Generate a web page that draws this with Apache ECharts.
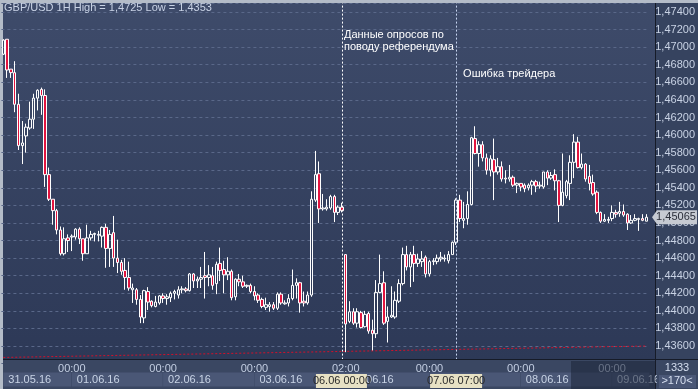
<!DOCTYPE html>
<html><head><meta charset="utf-8">
<script src="https://cdn.jsdelivr.net/npm/echarts@6/dist/echarts.min.js"></script>
<style>html,body{margin:0;padding:0;background:#b4bcc8;overflow:hidden}#c{width:698px;height:389px}</style>
</head><body><div id="c"></div><script>
// ---- data (GBP/USD 1H candles) ----
const opens = [1.4692,1.4709,1.4675,1.4671,1.4635,1.4588,1.4599,1.4608,1.4618,1.4642,1.4652,1.4645,1.4555,1.4527,1.4514,1.4492,1.4465,1.4483,1.4484,1.4484,1.4493,1.4482,1.4465,1.4483,1.4487,1.4486,1.4485,1.4495,1.4471,1.4489,1.4460,1.4455,1.4446,1.4438,1.4424,1.4424,1.4413,1.4392,1.4422,1.4411,1.4405,1.4409,1.4417,1.4414,1.4415,1.4420,1.4418,1.4424,1.4425,1.4423,1.4442,1.4434,1.4436,1.4440,1.4438,1.4440,1.4431,1.4454,1.4447,1.4441,1.4445,1.4416,1.4436,1.4433,1.4428,1.4429,1.4422,1.4418,1.4413,1.4404,1.4405,1.4407,1.4403,1.4419,1.4408,1.4409,1.4414,1.4429,1.4432,1.4411,1.4409,1.4418,1.4526,1.4556,1.4516,1.4516,1.4517,1.4530,1.4512,1.4518,1.4464,1.4388,1.4399,1.4386,1.4398,1.4382,1.4397,1.4378,1.4374,1.4421,1.4432,1.4388,1.4393,1.4393,1.4411,1.4431,1.4464,1.4450,1.4464,1.4454,1.4456,1.4461,1.4442,1.4456,1.4456,1.4459,1.4459,1.4457,1.4464,1.4478,1.4526,1.4503,1.4505,1.4521,1.4596,1.4579,1.4589,1.4574,1.4560,1.4572,1.4558,1.4564,1.4550,1.4550,1.4552,1.4543,1.4545,1.4543,1.4540,1.4543,1.4547,1.4542,1.4541,1.4558,1.4551,1.4555,1.4548,1.4520,1.4531,1.4545,1.4569,1.4592,1.4563,1.4567,1.4553,1.4546,1.4535,1.4512,1.4502,1.4503,1.4505,1.4512,1.4511,1.4513,1.4510,1.4500,1.4503,1.4504,1.4505,1.4502];
const closes = [1.4708,1.4674,1.4671,1.4635,1.4588,1.4591,1.4609,1.4618,1.4642,1.4651,1.4645,1.4555,1.4527,1.4514,1.4492,1.4465,1.4482,1.4480,1.4485,1.4493,1.4482,1.4465,1.4483,1.4487,1.4488,1.4487,1.4495,1.4471,1.4487,1.4460,1.4455,1.4445,1.4438,1.4426,1.4426,1.4413,1.4393,1.4423,1.4410,1.4406,1.4410,1.4417,1.4414,1.4416,1.4420,1.4422,1.4424,1.4425,1.4423,1.4442,1.4434,1.4436,1.4438,1.4438,1.4441,1.4429,1.4453,1.4446,1.4441,1.4445,1.4415,1.4436,1.4433,1.4428,1.4429,1.4422,1.4417,1.4412,1.4405,1.4407,1.4407,1.4403,1.4419,1.4409,1.4409,1.4414,1.4429,1.4432,1.4409,1.4409,1.4418,1.4527,1.4555,1.4516,1.4517,1.4518,1.4530,1.4512,1.4518,1.4514,1.4385,1.4399,1.4386,1.4399,1.4381,1.4396,1.4377,1.4374,1.4421,1.4431,1.4386,1.4393,1.4395,1.4412,1.4431,1.4464,1.4450,1.4464,1.4454,1.4459,1.4459,1.4442,1.4456,1.4457,1.4460,1.4461,1.4460,1.4464,1.4478,1.4526,1.4505,1.4505,1.4521,1.4597,1.4579,1.4589,1.4574,1.4560,1.4573,1.4558,1.4564,1.4550,1.4551,1.4552,1.4543,1.4545,1.4541,1.4539,1.4543,1.4547,1.4542,1.4543,1.4558,1.4551,1.4554,1.4548,1.4520,1.4535,1.4547,1.4569,1.4592,1.4563,1.4567,1.4550,1.4545,1.4533,1.4512,1.4502,1.4504,1.4504,1.4512,1.4510,1.4513,1.4509,1.4500,1.4503,1.4505,1.4505,1.4503,1.45065];
const lows = [1.4691,1.4665,1.4665,1.4626,1.4583,1.4567,1.4580,1.4606,1.4607,1.4628,1.4623,1.4541,1.4525,1.4498,1.4487,1.4463,1.4463,1.4467,1.4468,1.4481,1.4476,1.4457,1.4465,1.4480,1.4479,1.4479,1.4472,1.4449,1.4450,1.4450,1.4443,1.4441,1.4424,1.4423,1.4409,1.4407,1.4386,1.4386,1.4401,1.4404,1.4404,1.4407,1.4409,1.4407,1.4410,1.4413,1.4414,1.4420,1.4421,1.4422,1.4426,1.4426,1.4426,1.4414,1.4428,1.4424,1.4419,1.4434,1.4420,1.4435,1.4412,1.4412,1.4428,1.4426,1.4426,1.4420,1.4412,1.4409,1.4403,1.4401,1.4399,1.4401,1.4401,1.4407,1.4407,1.4405,1.4412,1.4414,1.4398,1.4405,1.4407,1.4416,1.4524,1.4500,1.4514,1.4514,1.4515,1.4501,1.4509,1.4512,1.4353,1.4386,1.4384,1.4381,1.4380,1.4381,1.4374,1.4355,1.4369,1.4420,1.4384,1.4364,1.4392,1.4391,1.4409,1.4429,1.4446,1.4427,1.4433,1.4450,1.4450,1.4438,1.4439,1.4452,1.4453,1.4456,1.4456,1.4454,1.4464,1.4475,1.4501,1.4494,1.4498,1.4520,1.4578,1.4564,1.4570,1.4555,1.4553,1.4526,1.4555,1.4547,1.4545,1.4547,1.4541,1.4534,1.4536,1.4535,1.4537,1.4532,1.4535,1.4539,1.4539,1.4543,1.4549,1.4537,1.4501,1.4519,1.4528,1.4526,1.4551,1.4562,1.4561,1.4547,1.4537,1.4531,1.4510,1.4500,1.4501,1.4500,1.4502,1.4506,1.4507,1.4507,1.4492,1.4499,1.4502,1.4491,1.4502,1.4502];
const highs = [1.4709,1.4709,1.4675,1.4684,1.4647,1.4616,1.4613,1.4638,1.4647,1.4652,1.4654,1.4652,1.4563,1.4527,1.4516,1.4496,1.4495,1.4487,1.4487,1.4494,1.4495,1.4482,1.4498,1.4491,1.4489,1.4491,1.4496,1.4499,1.4492,1.4508,1.4481,1.4458,1.4460,1.4456,1.4431,1.4426,1.4418,1.4424,1.4427,1.4412,1.4417,1.4418,1.4420,1.4419,1.4422,1.4424,1.4428,1.4428,1.4427,1.4443,1.4443,1.4439,1.4450,1.4467,1.4452,1.4450,1.4456,1.4472,1.4457,1.4461,1.4447,1.4437,1.4442,1.4440,1.4430,1.4431,1.4428,1.4420,1.4415,1.4415,1.4410,1.4410,1.4421,1.4421,1.4412,1.4419,1.4447,1.4437,1.4433,1.4422,1.4422,1.4536,1.4582,1.4570,1.4533,1.4527,1.4532,1.4532,1.4520,1.4523,1.4464,1.4411,1.4403,1.4403,1.4400,1.4400,1.4399,1.4390,1.4435,1.4464,1.4445,1.4405,1.4428,1.4422,1.4436,1.4472,1.4474,1.4467,1.4474,1.4465,1.4468,1.4463,1.4458,1.4460,1.4464,1.4467,1.4464,1.4468,1.4479,1.4528,1.4532,1.4524,1.4536,1.4598,1.4610,1.4593,1.4593,1.4579,1.4577,1.4596,1.4574,1.4570,1.4560,1.4566,1.4554,1.4546,1.4545,1.4545,1.4545,1.4549,1.4549,1.4547,1.4558,1.4560,1.4558,1.4561,1.4549,1.4579,1.4549,1.4577,1.4601,1.4598,1.4579,1.4568,1.4566,1.4555,1.4537,1.4513,1.4510,1.4507,1.4520,1.4515,1.4524,1.4521,1.4511,1.4509,1.4510,1.4506,1.4510,1.4510];
// trading days: label, first hour, number of hourly candles
const dayDates = ['31.05.16','01.06.16','02.06.16','03.06.16','06.06.16','07.06.16','08.06.16','09.06.16'];
const dayFirstHour = [6,0,0,0,2,0,0,0];
const dayCounts = [18,24,24,24,22,24,24,10];
// red dotted trend line (start / end)
const trendIdx = [0,169];
const trendVal = [1.4347,1.4360];
// annotated event lines (candle index) and their texts
const eventIdx = [89,119];
const eventText = ['Данные опросов по\nповоду референдума','Ошибка трейдера'];
const eventTag = ['06.06 00:00','07.06 07:00'];
const yTickMin = 1.434, yTickMax = 1.475, yTickStep = 0.002;
const titleText = 'GBP/USD 1H High = 1,4725 Low = 1,4353';
const footTop = '1333', footBottom = '>170<';

// ---- build categories ----
const categories = [], dayStart = {};
dayDates.forEach((d, k) => {
  dayStart[categories.length] = k;
  for (let h = 0; h < dayCounts[k]; h++) {
    const hh = dayFirstHour[k] + h;
    categories.push(d.slice(0,5) + ' ' + (hh < 10 ? '0' : '') + hh + ':00');
  }
});
const candles = opens.map((o, i) => [o, closes[i], lows[i], highs[i]]);

const W = 698, H = 389;
const plotL = 1.4, plotR = 652.5, gridTop = 3.2, gridBottom = 363.6;
const step = (plotR - plotL) / categories.length;
const FONT = '"Liberation Sans Narrow","Liberation Sans",Arial,sans-serif';

const rich = {};
dayDates.forEach((d, k) => {
  rich['d' + k] = {width: dayCounts[k] * step - 6, height: 13, lineHeight: 13, backgroundColor: '#4a5776',
    color: '#c9d4e6', fontSize: 11, fontFamily: FONT, padding: [1, 0, 0, 5], align: 'left'};
});

const chart = echarts.init(document.getElementById('c'), null, {renderer: 'canvas'});
const option = {
  animation: false,
  backgroundColor: '#b4bcc8',
  grid: {left: plotL, right: W - plotR, top: gridTop, bottom: H - gridBottom, containLabel: false},
  xAxis: [{
    type: 'category', data: categories, boundaryGap: true, z: 8,
    axisLine: {show: false}, axisTick: {show: false}, splitLine: {show: false},
    axisLabel: {
      interval: (i) => dayStart[i] !== undefined && i > 0,
      formatter: (v) => v.slice(6), color: '#c3cee2', fontSize: 11, fontFamily: FONT,
      verticalAlign: 'middle', margin: 5
    }
  }, {
    type: 'category', data: categories, boundaryGap: true, position: 'bottom', z: 8,
    axisLine: {show: false}, axisTick: {show: false}, splitLine: {show: false},
    axisLabel: {
      interval: (i) => dayStart[i] !== undefined,
      formatter: (v, i) => '{d' + dayStart[i] + '|' + dayDates[dayStart[i]] + '}',
      rich: rich, align: 'left', verticalAlign: 'middle', margin: 16
    }
  }],
  yAxis: {
    type: 'value', position: 'right', min: yTickMin, max: yTickMax, interval: yTickStep, scale: true,
    axisLine: {show: false}, axisTick: {show: false},
    axisLabel: {
      color: '#c8d2e4', fontSize: 11, fontFamily: FONT, margin: 7,
      formatter: (v) => {
        const t = Math.round(v * 10000);
        if (t % 20 !== 0 || t <= 14340 || t >= 14750) return '';
        return v.toFixed(5).replace('.', ',');
      }
    },
    splitLine: {show: true, lineStyle: {color: '#5a6889', type: [3, 3], width: 1}}
  },
  series: [{
    type: 'candlestick', data: candles, barWidth: 3, z: 3,
    itemStyle: {color: 'rgba(0,0,0,0)', color0: '#e2143f', borderColor: '#ffffff', borderColor0: '#ffffff', borderWidth: 1},
    markLine: {
      silent: true, symbol: 'none', label: {show: false}, animation: false,
      data: [
        {xAxis: eventIdx[0], lineStyle: {color: '#ffffff', type: [2, 2], width: 1}},
        {xAxis: eventIdx[1], lineStyle: {color: '#c6d4f0', type: [2, 2], width: 1}}
      ]
    }
  }, {
    type: 'line', data: trendIdx.map((x, i) => [x, trendVal[i]]), symbol: 'none', z: 2,
    lineStyle: {color: '#d2102a', width: 1, type: [2, 2]}
  }]
};
chart.setOption(option);

// ---- decorations positioned from the axes ----
const px = (i, v) => chart.convertToPixel({gridIndex: 0}, [i, v]);
const lastY = px(0, closes[closes.length - 1])[1];
const ev0 = px(eventIdx[0], 1.47)[0], ev1 = px(eventIdx[1], 1.47)[0];
const els = [
  {type: 'rect', z: -10, shape: {x: 3, y: 3, width: 652, height: 356},
    style: {fill: new echarts.graphic.LinearGradient(0, 0, 0, 1, [{offset: 0, color: '#3e4b6a'}, {offset: 1, color: '#2d3957'}])}},
  {type: 'rect', z: -10, shape: {x: 655, y: 3, width: 43, height: 356}, style: {fill: '#36435f'}},
  {type: 'rect', z: 5, shape: {x: 3, y: 359, width: 695, height: 30}, style: {fill: '#3a4762'}},
  {type: 'rect', z: 5, shape: {x: 3, y: 359, width: 695, height: 1}, style: {fill: '#161b28'}},
  {type: 'rect', z: 6, shape: {x: 655, y: 3, width: 1, height: 386}, style: {fill: '#161b28'}},
  {type: 'rect', z: 9, shape: {x: 571, y: 361, width: 84, height: 28}, style: {fill: 'rgba(28,36,56,0.55)'}},
  {type: 'rect', z: 9, shape: {x: 657, y: 361, width: 41, height: 28}, style: {fill: '#3a4762'}},
  {type: 'rect', z: 9, shape: {x: 659, y: 375, width: 37, height: 13}, style: {fill: '#4a5776'}},
  {type: 'text', z: 10, x: 677, y: 368, style: {text: footTop, fill: '#d6dff0', font: '11px ' + FONT, align: 'center', verticalAlign: 'middle'}},
  {type: 'text', z: 10, x: 677, y: 381, style: {text: footBottom, fill: '#d6dff0', font: '11px ' + FONT, align: 'center', verticalAlign: 'middle'}},
  {type: 'text', z: 10, x: 4, y: 8, style: {text: titleText, fill: '#c9d3e6', font: '11px ' + FONT, verticalAlign: 'middle'}},
  {type: 'text', z: 10, x: ev0 + 2, y: 29, style: {text: eventText[0], fill: '#ffffff', font: '11px ' + FONT, lineHeight: 12}},
  {type: 'text', z: 10, x: ev1 + 7, y: 68, style: {text: eventText[1], fill: '#ffffff', font: '11px ' + FONT, lineHeight: 12}},
  {type: 'rect', z: 10, shape: {x: ev0 - 26, y: 374, width: 51, height: 14}, style: {fill: '#e7e1c4'}},
  {type: 'text', z: 11, x: ev0, y: 381, style: {text: eventTag[0], fill: '#2a2a2a', font: '11px ' + FONT, align: 'center', verticalAlign: 'middle'}},
  {type: 'rect', z: 10, shape: {x: ev1 - 26, y: 374, width: 52, height: 14}, style: {fill: '#e7e1c4'}},
  {type: 'text', z: 11, x: ev1, y: 381, style: {text: eventTag[1], fill: '#2a2a2a', font: '11px ' + FONT, align: 'center', verticalAlign: 'middle'}},
  {type: 'polygon', z: 10, shape: {points: [[652, lastY], [657, lastY - 7], [697, lastY - 7], [697, lastY + 7], [657, lastY + 7]]}, style: {fill: '#c6cad2'}},
  {type: 'text', z: 11, x: 676, y: lastY, style: {text: closes[closes.length - 1].toFixed(5).replace('.', ','), fill: '#2b2f3a', font: '11px ' + FONT, align: 'center', verticalAlign: 'middle'}}
];
chart.setOption({graphic: {elements: els}});
</script></body></html>
